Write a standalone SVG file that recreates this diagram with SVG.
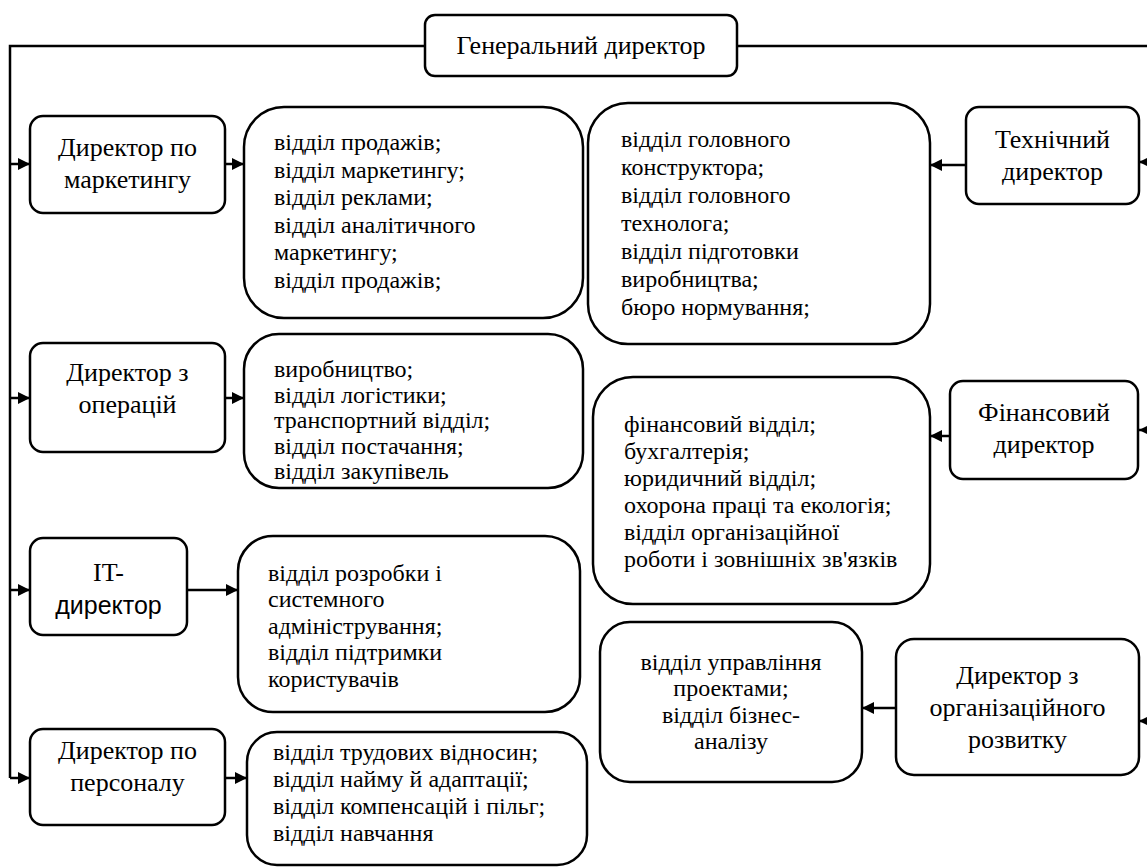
<svg xmlns="http://www.w3.org/2000/svg" width="1147" height="868" viewBox="0 0 1147 868">
<style>
.box{fill:#fff;stroke:#000;stroke-width:2.5}
.ln{fill:none;stroke:#000;stroke-width:2.5}
.d{font-family:"Liberation Serif","Times New Roman",serif;font-size:26px;fill:#000;text-anchor:middle}
.t{font-family:"Liberation Serif","Times New Roman",serif;font-size:24px;fill:#000}
.c{text-anchor:middle}
.s{font-family:"Liberation Sans",Arial,sans-serif;font-size:25px}
</style>
<defs>
<marker id="ah" viewBox="0 0 12 12" refX="12" refY="6" markerWidth="13" markerHeight="12" markerUnits="userSpaceOnUse" orient="auto">
<path d="M0,0 L12,6 L0,12 z" fill="#000"/>
</marker>
</defs>
<rect width="1147" height="868" fill="#fff"/>
<g id="connectors">
<path class="ln" d="M425,46 H10 V778"/>
<path class="ln" d="M737,46 H1151 V722"/>
<path class="ln" d="M10,164 H30" marker-end="url(#ah)"/>
<path class="ln" d="M10,398 H30" marker-end="url(#ah)"/>
<path class="ln" d="M10,590 H30" marker-end="url(#ah)"/>
<path class="ln" d="M10,778 H30" marker-end="url(#ah)"/>
<path class="ln" d="M225,164 H244" marker-end="url(#ah)"/>
<path class="ln" d="M225,398 H244" marker-end="url(#ah)"/>
<path class="ln" d="M187,590 H238" marker-end="url(#ah)"/>
<path class="ln" d="M225,778 H247" marker-end="url(#ah)"/>
<path class="ln" d="M966,165 H930" marker-end="url(#ah)"/>
<path class="ln" d="M950,436 H930" marker-end="url(#ah)"/>
<path class="ln" d="M896,708 H862" marker-end="url(#ah)"/>
<path class="ln" d="M1151,162 H1139" marker-end="url(#ah)"/>
<path class="ln" d="M1151,430 H1139" marker-end="url(#ah)"/>
<path class="ln" d="M1151,721 H1139" marker-end="url(#ah)"/>
</g>
<g id="general">
<rect class="box" x="425" y="15" width="312" height="61" rx="10"/>
<text class="d" x="581" y="54">Генеральний директор</text>
</g>
<g id="dir-marketing">
<rect class="box" x="30" y="116" width="195" height="97" rx="13"/>
<text class="d" x="127.5" y="156">Директор по</text>
<text class="d" x="127.5" y="188">маркетингу</text>
</g>
<g id="dept-marketing">
<rect class="box" x="244" y="107" width="339" height="211" rx="40"/>
<text class="t" x="274" y="150">відділ продажів;</text>
<text class="t" x="274" y="177.5">відділ маркетингу;</text>
<text class="t" x="274" y="205">відділ реклами;</text>
<text class="t" x="274" y="232.5">відділ аналітичного</text>
<text class="t" x="274" y="260">маркетингу;</text>
<text class="t" x="274" y="287.5">відділ продажів;</text>
</g>
<g id="dir-operations">
<rect class="box" x="30" y="343" width="195" height="109" rx="13"/>
<text class="d" x="127.5" y="381">Директор з</text>
<text class="d" x="127.5" y="413">операцій</text>
</g>
<g id="dept-operations">
<rect class="box" x="244" y="334" width="339" height="154" rx="35"/>
<text class="t" x="274" y="377">виробництво;</text>
<text class="t" x="274" y="402.5">відділ логістики;</text>
<text class="t" x="274" y="428">транспортний відділ;</text>
<text class="t" x="274" y="453.5">відділ постачання;</text>
<text class="t" x="274" y="479">відділ закупівель</text>
</g>
<g id="dir-it">
<rect class="box" x="30" y="538" width="157" height="97" rx="13"/>
<text class="d" x="108.5" y="581">IT-</text>
<text class="d s" x="108.5" y="614">директор</text>
</g>
<g id="dept-it">
<rect class="box" x="238" y="536" width="342" height="176" rx="35"/>
<text class="t" x="268" y="580.5">відділ розробки і</text>
<text class="t" x="268" y="607">системного</text>
<text class="t" x="268" y="633.5">адміністрування;</text>
<text class="t" x="268" y="660">відділ підтримки</text>
<text class="t" x="268" y="686.5">користувачів</text>
</g>
<g id="dir-personnel">
<rect class="box" x="30" y="729" width="195" height="96" rx="13"/>
<text class="d" x="127.5" y="759">Директор по</text>
<text class="d" x="127.5" y="791">персоналу</text>
</g>
<g id="dept-personnel">
<rect class="box" x="247" y="732" width="340" height="133" rx="30"/>
<text class="t" x="273" y="760">відділ трудових відносин;</text>
<text class="t" x="273" y="787">відділ найму й адаптації;</text>
<text class="t" x="273" y="814">відділ компенсацій і пільг;</text>
<text class="t" x="273" y="841">відділ навчання</text>
</g>
<g id="dept-technical">
<rect class="box" x="588" y="103" width="342" height="241" rx="40"/>
<text class="t" x="621" y="146.5">відділ головного</text>
<text class="t" x="621" y="174.5">конструктора;</text>
<text class="t" x="621" y="202.5">відділ головного</text>
<text class="t" x="621" y="230.5">технолога;</text>
<text class="t" x="621" y="258.5">відділ підготовки</text>
<text class="t" x="621" y="286.5">виробництва;</text>
<text class="t" x="621" y="314.5">бюро нормування;</text>
</g>
<g id="dir-technical">
<rect class="box" x="966" y="107" width="173" height="97" rx="13"/>
<text class="d" x="1052.5" y="148">Технічний</text>
<text class="d" x="1052.5" y="180">директор</text>
</g>
<g id="dept-financial">
<rect class="box" x="593" y="377" width="337" height="227" rx="40"/>
<text class="t" x="624" y="432">фінансовий відділ;</text>
<text class="t" x="624" y="459">бухгалтерія;</text>
<text class="t" x="624" y="486">юридичний відділ;</text>
<text class="t" x="624" y="513">охорона праці та екологія;</text>
<text class="t" x="624" y="540">відділ організаційної</text>
<text class="t" x="624" y="567">роботи і зовнішніх зв'язків</text>
</g>
<g id="dir-financial">
<rect class="box" x="950" y="381" width="188" height="98" rx="13"/>
<text class="d" x="1044" y="421">Фінансовий</text>
<text class="d" x="1044" y="453">директор</text>
</g>
<g id="dept-orgdev">
<rect class="box" x="600" y="622" width="262" height="160" rx="30"/>
<text class="t c" x="731" y="669.5">відділ управління</text>
<text class="t c" x="731" y="696">проектами;</text>
<text class="t c" x="731" y="722.5">відділ бізнес-</text>
<text class="t c" x="731" y="749">аналізу</text>
</g>
<g id="dir-orgdev">
<rect class="box" x="896" y="639" width="243" height="136" rx="18"/>
<text class="d" x="1017.5" y="684">Директор з</text>
<text class="d" x="1017.5" y="716">організаційного</text>
<text class="d" x="1017.5" y="748">розвитку</text>
</g>
</svg>
